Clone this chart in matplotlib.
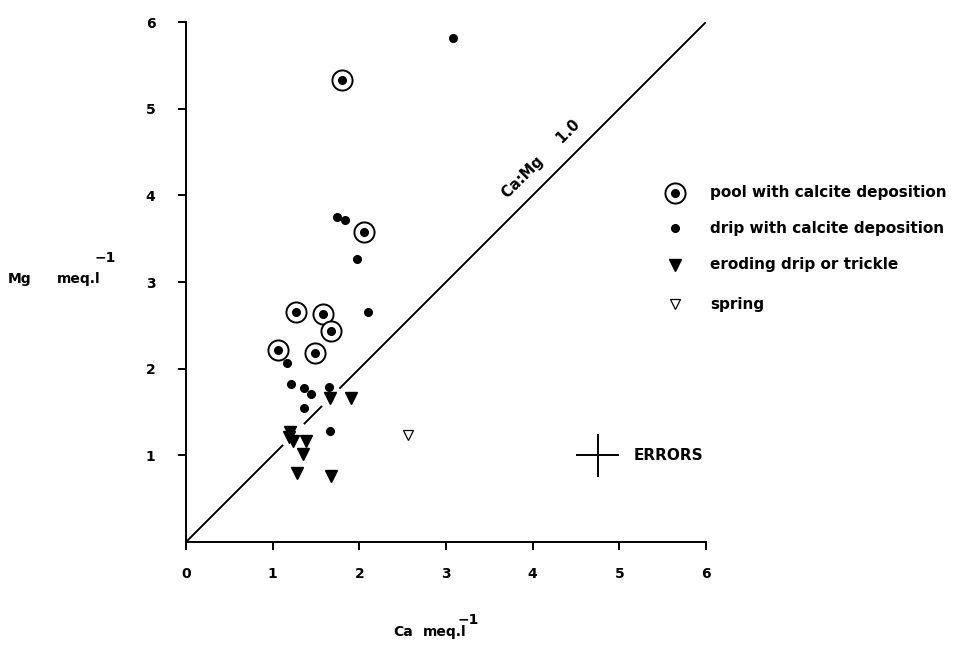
import matplotlib
matplotlib.use("Agg")
import matplotlib.pyplot as plt

plt.rcParams['font.family'] = ['DejaVu Sans']

# Data (Ca, Mg in meq/l)
pool_ca = [1.80, 2.05, 1.27, 1.58, 1.67, 1.06, 1.49]
pool_mg = [5.33, 3.58, 2.65, 2.63, 2.44, 2.21, 2.18]

drip_ca = [3.08, 1.74, 1.83, 1.97, 2.10, 1.16, 1.21, 1.36, 1.44, 1.65, 1.36, 1.66]
drip_mg = [5.82, 3.75, 3.71, 3.26, 2.65, 2.07, 1.82, 1.78, 1.71, 1.79, 1.55, 1.28]

erod_ca = [1.66, 1.90, 1.20, 1.19, 1.23, 1.38, 1.35, 1.28, 1.67]
erod_mg = [1.66, 1.66, 1.27, 1.21, 1.16, 1.16, 1.02, 0.80, 0.76]

spring_ca = [2.56]
spring_mg = [1.23]

line_gaps = [(0.0, 1.12), (1.36, 1.57), (1.77, 6.0)]

err_x, err_y, err_size = 4.75, 1.0, 0.25

ticks = [0, 1, 2, 3, 4, 5, 6]
legend_labels = ["pool with calcite deposition", "drip with calcite deposition",
                 "eroding drip or trickle", "spring"]

fig = plt.figure(figsize=(9.66, 6.46), dpi=100)
ax = fig.add_axes([186/966, 1-542/646, 520/966, 520/646])
ax.set_xlim(0, 6)
ax.set_ylim(0, 6)

for a, b in line_gaps:
    ax.plot([a, b], [a, b], color='black', lw=1.4, solid_capstyle='butt')

ax.plot(pool_ca, pool_mg, 'o', ms=14.5, mfc='white', mec='black', mew=1.4, ls='none', zorder=3)
ax.plot(pool_ca, pool_mg, 'o', ms=5.5, color='black', ls='none', zorder=4)
ax.plot(drip_ca, drip_mg, 'o', ms=5.5, color='black', ls='none', zorder=4)
ax.plot(erod_ca, erod_mg, 'v', ms=9, color='black', ls='none', zorder=4)
ax.plot(spring_ca, spring_mg, 'v', ms=7.5, mfc='white', mec='black', mew=0.9, ls='none', zorder=4)

ax.errorbar([err_x], [err_y], xerr=err_size, yerr=err_size, fmt='none', ecolor='black',
            elinewidth=1.4, capsize=0)
ax.text(5.17, 1.0, "ERRORS", fontsize=11, fontweight='bold', va='center', ha='left')

ax.text(4.1, 4.42, "Ca:Mg     1.0", fontsize=10.5, fontweight='bold', rotation=45,
        rotation_mode='anchor', ha='center', va='center')

for s in ['top', 'right']:
    ax.spines[s].set_visible(False)
for s in ['left', 'bottom']:
    ax.spines[s].set_linewidth(1.4)

ax.set_xticks(ticks)
ax.set_yticks(ticks[1:])
ax.set_xticklabels([str(t) for t in ticks], fontsize=10, fontweight='bold')
ax.set_yticklabels([str(t) for t in ticks[1:]], fontsize=10, fontweight='bold')
ax.tick_params(axis='both', direction='out', length=6, width=1.4)
ax.tick_params(axis='x', pad=12)
ax.tick_params(axis='y', pad=16)

# axis labels
fig.text(8/966, 1-279/646, "Mg", fontsize=10, fontweight='bold', va='center', ha='left')
fig.text(57/966, 1-279/646, "meq.l", fontsize=10, fontweight='bold', va='center', ha='left')
fig.text(95/966, 1-258/646, "\u22121", fontsize=10, fontweight='bold', va='center', ha='left')

fig.text(393/966, 1-632/646, "Ca", fontsize=10, fontweight='bold', va='center', ha='left')
fig.text(423/966, 1-632/646, "meq.l", fontsize=10, fontweight='bold', va='center', ha='left')
fig.text(458/966, 1-620/646, "\u22121", fontsize=10, fontweight='bold', va='center', ha='left')

# legend (manual)
leg_y = [193, 228, 265, 304]
mx = (675 - 186) / 520
tx = (710 - 186) / 520
def ay(py):
    return (542 - py) / 520
ax.plot([mx], [ay(leg_y[0])], 'o', ms=14.5, mfc='white', mec='black', mew=1.4,
        transform=ax.transAxes, clip_on=False)
ax.plot([mx], [ay(leg_y[0])], 'o', ms=5.5, color='black', transform=ax.transAxes, clip_on=False)
ax.plot([mx], [ay(leg_y[1])], 'o', ms=5.5, color='black', transform=ax.transAxes, clip_on=False)
ax.plot([mx], [ay(leg_y[2])], 'v', ms=9, color='black', transform=ax.transAxes, clip_on=False)
ax.plot([mx], [ay(leg_y[3])], 'v', ms=7.5, mfc='white', mec='black', mew=0.9,
        transform=ax.transAxes, clip_on=False)
for yy, lab in zip(leg_y, legend_labels):
    ax.text(tx, ay(yy), lab, fontsize=11, fontweight='bold', va='center', ha='left',
            transform=ax.transAxes, clip_on=False)

fig.savefig("out.png", dpi=100)
